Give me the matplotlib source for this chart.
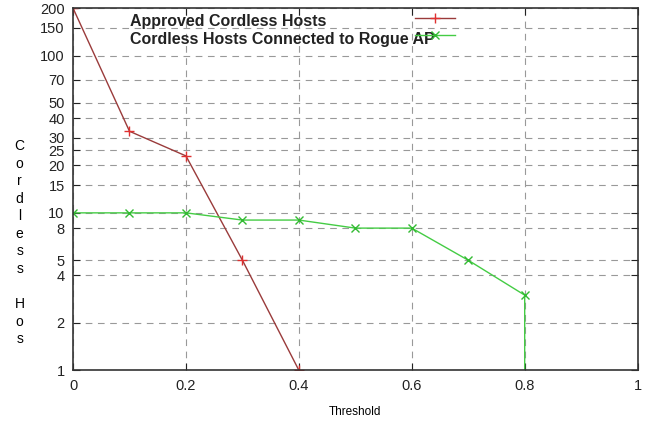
import matplotlib.pyplot as plt
from matplotlib.ticker import FixedLocator, NullLocator

plt.rcParams['font.family'] = ['Liberation Sans', 'DejaVu Sans']

# Data
threshold = [0.0, 0.1, 0.2, 0.3, 0.4]
approved = [200, 33, 23, 5, 1]

threshold_rogue = [0.0, 0.1, 0.2, 0.3, 0.4, 0.5, 0.6, 0.7, 0.8, 0.8]
rogue = [10, 10, 10, 9, 9, 8, 8, 5, 3, 1]

series_names = ['Approved Cordless Hosts', 'Cordless Hosts Connected to Rogue AP']
y_ticks = [1, 2, 4, 5, 8, 10, 15, 20, 25, 30, 40, 50, 70, 100, 150, 200]
x_ticks = [0, 0.2, 0.4, 0.6, 0.8, 1]

fig, ax = plt.subplots()
fig.set_size_inches(6.58, 4.28)
fig.subplots_adjust(left=0.111, right=0.969, top=0.981, bottom=0.135)

l1, = ax.plot(threshold, approved, color='#9a3b3b', lw=1, marker='+', ms=7,
              mec='#e03030', mew=1)
l2, = ax.plot(threshold_rogue, rogue, color='#44cc44', lw=1, marker='x', ms=6,
              mec='#33bb33', mew=1, markevery=list(range(9)))

ax.set_yscale('log')
ax.set_xlim(0, 1)
ax.set_ylim(1, 200)
ax.yaxis.set_major_locator(FixedLocator(y_ticks))
ax.yaxis.set_minor_locator(NullLocator())
ax.set_yticklabels([str(t) for t in y_ticks])
ax.set_xticks(x_ticks)
ax.set_xticklabels(['0', '0.2', '0.4', '0.6', '0.8', '1'])

ax.grid(True, color='#999999', ls=(0, (6, 5)), lw=0.8)
ax.tick_params(direction='in', top=True, right=True, length=5,
               labelsize=10.5, colors='#222222', pad=6)
for s in ax.spines.values():
    s.set_color('#333333')
    s.set_linewidth(1.2)

ax.set_xlabel('Threshold', fontsize=8.5, labelpad=10)
fig.text(0.03, 0.433, '\n'.join('Cordless Hos'), ha='center', va='center',
         fontsize=10, linespacing=1.32)

# gnuplot-style key: left-aligned labels, samples in a column to the right
key = ax.legend([l1, l2], [' ', ' '], loc='upper left',
                bbox_to_anchor=(0.605, 0.99), frameon=False,
                handlelength=2.9, handletextpad=0.0, borderpad=0.0,
                borderaxespad=0.0, labelspacing=0.25, prop={'size': 10})
for i, name in enumerate(series_names):
    ax.text(0.101, 0.962 - i * 0.05, name, transform=ax.transAxes,
            ha='left', va='center', fontsize=11.5, fontweight='bold',
            color='#222222', zorder=5)

plt.savefig('out.png', dpi=100)
